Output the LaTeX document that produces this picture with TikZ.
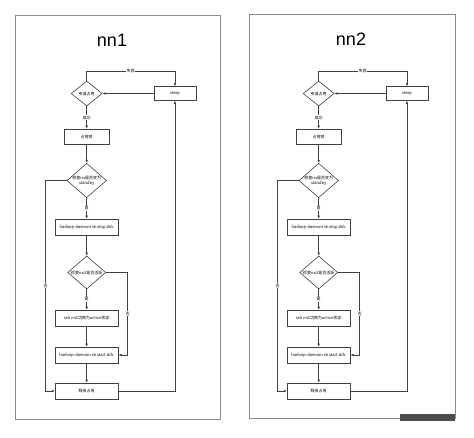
\documentclass[tikz,border=0pt]{standalone}
\usepackage{fontspec}
\setmainfont{Liberation Sans}
\newfontfamily\cjk{Noto Sans CJK SC}
\usetikzlibrary{arrows.meta,shapes.geometric}

\tikzset{
  frame/.style={draw=black!45, line width=0.8pt},
  box/.style={draw=black!75, line width=0.6pt, minimum width=63pt, minimum height=16pt,
    inner sep=0pt, font=\cjk\fontsize{4}{5}\selectfont},
  choice/.style={draw=black!75, line width=0.6pt, diamond, aspect=1.15, inner sep=0pt,
    align=center, font=\cjk\fontsize{4}{5}\selectfont},
  flow/.style={draw=black!75, line width=0.6pt, -{Latex[length=3pt,width=2.6pt]}},
  lbl/.style={fill=white, inner sep=0.6pt, font=\cjk\fontsize{4}{5}\selectfont}
}

\begin{document}
\begin{tikzpicture}[x=1pt,y=-1pt]
    \useasboundingbox (0,0) rectangle (474,438);

    % Frames
    \draw[frame] (15,15) rectangle (220,419);
    \draw[frame] (249,14) rectangle (455,418);
    \node (title1) at (112,40) {\fontsize{18}{20}\selectfont nn1};
    \node (title2) at (351,39) {\fontsize{18}{20}\selectfont nn2};
    \fill[black!70] (400,414) rectangle (455,421);

    % Flow charts
    \foreach \p/\dx in {a/0, b/232} {
    \begin{scope}[shift={(\dx,0)}]
        \node[choice, minimum width=31pt, minimum height=25pt] (\p d1) at (86.7,93.5) {申请占用};
        \node[box, minimum width=42pt, minimum height=14pt] (\p sleep) at (175,93.5) {sleep};
        \node[box, minimum width=45pt, minimum height=15pt] (\p lock) at (86.7,136.5) {占用锁};
        \node[choice, minimum width=38pt, minimum height=34pt] (\p d2) at (86.7,180.5) {检查nn是否变为\\standby};
        \node[box] (\p stop) at (86.7,227) {hadoop-daemon.sh stop zkfc};
        \node[choice, minimum width=38pt, minimum height=33pt] (\p d3) at (86.7,272.5) {检查nn2是否活跃};
        \node[box] (\p ssh) at (86.7,318) {ssh nn1切换为active状态};
        \node[box] (\p start) at (86.7,355) {hadoop-daemon.sh start zkfc};
        \node[box] (\p free) at (86.7,391) {释放占用};

        % Connectors
        \draw[flow] (\p d1.north) -- ++(0,-9.5) -| node[lbl, pos=0.25] {失败} (\p sleep.north);
        \draw[flow] (\p sleep) -- (\p d1);
        \draw[flow] (\p d1) -- node[lbl] {成功} (\p lock);
        \draw[flow] (\p lock) -- (\p d2);
        \draw[flow] (\p d2) -- node[lbl] {是} (\p stop);
        \draw[flow] (\p d2.west) -- ++(-21,0) |- node[lbl, pos=0.25] {否} (\p free.west);
        \draw[flow] (\p stop) -- (\p d3);
        \draw[flow] (\p d3) -- node[lbl] {是} (\p ssh);
        \draw[flow] (\p d3.east) -- ++(21.6,0) |- node[lbl, pos=0.25] {否} (\p start.east);
        \draw[flow] (\p ssh) -- (\p start);
        \draw[flow] (\p start) -- (\p free);
        \draw[flow] (\p free.east) -| (\p sleep.south);
    \end{scope}
    }
\end{tikzpicture}
\end{document}
